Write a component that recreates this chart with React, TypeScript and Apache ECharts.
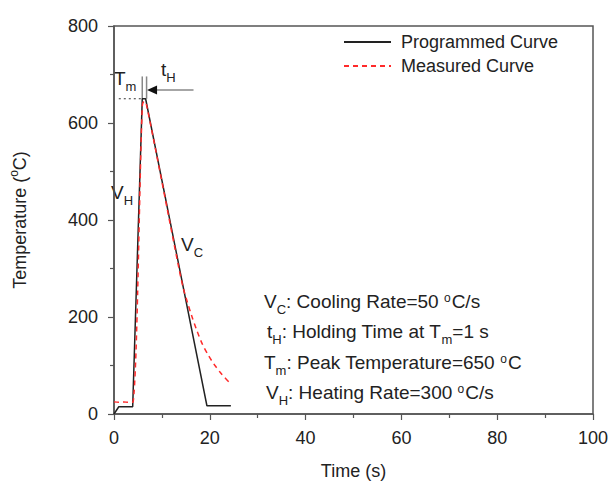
import React, { useEffect, useRef } from "react";
import * as echarts from "echarts";

const programmedTime = [0, 1, 3.9, 5.9, 6.6, 19.4, 24.4];
const programmedTemp = [0, 15, 15, 650, 650, 17, 17];
const measuredTime = [0, 1, 2, 3, 4.0, 5.9, 6.3, 6.8, 13.6, 14.5, 15.4, 16.3, 17.3, 18.4, 19.7, 21, 22.5, 24];
const measuredTemp = [25, 24, 25, 24, 25, 635, 645, 637, 298, 258, 228, 200, 172, 145, 121, 101, 82, 66];
const xTicks = [0, 20, 40, 60, 80, 100];
const yTicks = [0, 200, 400, 600, 800];
const seriesNames = ["Programmed Curve", "Measured Curve"];

const FONT = "'Liberation Sans', Arial, sans-serif";

export default function App() {
  const ref = useRef<HTMLDivElement>(null);
  useEffect(() => {
    if (!ref.current) return;
    document.body.style.margin = "0";
    const chart = echarts.init(ref.current, null, { renderer: "svg" });
    const axisCommon = {
      axisLine: { show: true, lineStyle: { color: "#555", width: 1.5 } },
      axisTick: { show: true, inside: false, length: 6, lineStyle: { color: "#555", width: 1.2 } },
      minorTick: { show: true, splitNumber: 2, length: 4, lineStyle: { color: "#555", width: 1.2 } },
      splitLine: { show: false },
      axisLabel: { fontSize: 18, color: "#222", fontFamily: FONT },
      nameTextStyle: { fontSize: 18, color: "#222", fontFamily: FONT },
    };
    chart.setOption({
      animation: false,
      backgroundColor: "#fff",
      grid: { left: 110, right: 21, top: 26, bottom: 72, show: true, borderColor: "#555", borderWidth: 1.5, backgroundColor: "transparent" },
      legend: {
        orient: "vertical",
        left: 343,
        top: 33,
        padding: 0,
        itemWidth: 47,
        itemHeight: 14,
        itemGap: 6,
        data: seriesNames,
        itemStyle: { opacity: 0 },
        textStyle: { fontSize: 18, color: "#222", fontFamily: FONT, padding: [0, 0, 0, 5] },
      },
      xAxis: {
        type: "value",
        min: xTicks[0],
        max: xTicks[xTicks.length - 1],
        interval: 20,
        name: "Time (s)",
        nameLocation: "middle",
        nameGap: 48,
        ...axisCommon,
        axisLabel: { ...axisCommon.axisLabel, margin: 15 },
      },
      yAxis: {
        type: "value",
        min: yTicks[0],
        max: yTicks[yTicks.length - 1],
        interval: 200,
        name: "Temperature ({sup|o}C)",
        nameLocation: "middle",
        nameGap: 82,
        ...axisCommon,
        axisLabel: { ...axisCommon.axisLabel, margin: 16 },
        nameTextStyle: {
          ...axisCommon.nameTextStyle,
          rich: {
            sup: { fontSize: 12, color: "#222", fontFamily: FONT, verticalAlign: "top", lineHeight: 24 },
          },
        },
      },
      series: [
        {
          name: seriesNames[0],
          type: "line",
          symbol: "none",
          data: programmedTime.map((t, i) => [t, programmedTemp[i]]),
          lineStyle: { color: "#222", width: 1.5 },
          itemStyle: { color: "#222" },
          z: 2,
        },
        {
          name: seriesNames[1],
          type: "line",
          symbol: "none",
          smooth: 0.3,
          data: measuredTime.map((t, i) => [t, measuredTemp[i]]),
          lineStyle: { color: "#ff2a2a", width: 1.5, type: [5, 4] },
          itemStyle: { color: "#ff2a2a" },
          z: 3,
        },
      ],
    });

    const px = (x: number, y: number) => chart.convertToPixel({ gridIndex: 0 }, [x, y]) as number[];
    const dotA = px(1, 650);
    const dotB = px(5.7, 650);
    const v1a = px(5.9, 650);
    const v1b = px(5.9, 696);
    const v2a = px(6.8, 650);
    const v2b = px(6.8, 696);
    const arA = px(16.6, 668);
    const arB = px(8.6, 668);
    const tip = px(6.9, 668);

    const mainStyle = { fontSize: 19, fontFamily: FONT, fill: "#222" };
    const rich = {
      t: { fontSize: 19, fontFamily: FONT, color: "#222", lineHeight: 30 },
      sub: { fontSize: 13, fontFamily: FONT, color: "#222", lineHeight: 14, verticalAlign: "bottom" },
      sup: { fontSize: 12, fontFamily: FONT, color: "#222", lineHeight: 12, verticalAlign: "top", padding: [6, 1, 0, 0] },
    };
    const label = (x: number, y: number, text: string) => ({
      type: "text",
      x,
      y,
      style: { ...mainStyle, text, rich, verticalAlign: "middle", align: "left" },
    });

    chart.setOption({
      graphic: [
        { type: "line", shape: { x1: dotA[0], y1: dotA[1], x2: dotB[0], y2: dotB[1] }, style: { stroke: "#333", lineWidth: 1, lineDash: [2, 3] } },
        { type: "line", shape: { x1: v1a[0], y1: v1a[1], x2: v1b[0], y2: v1b[1] }, style: { stroke: "#888", lineWidth: 1.5 } },
        { type: "line", shape: { x1: v2a[0], y1: v2a[1], x2: v2b[0], y2: v2b[1] }, style: { stroke: "#888", lineWidth: 1.5 } },
        { type: "line", shape: { x1: arA[0], y1: arA[1], x2: arB[0], y2: arB[1] }, style: { stroke: "#888", lineWidth: 1.5 } },
        { type: "polygon", shape: { points: [[tip[0], tip[1]], [tip[0] + 10, tip[1] - 4.5], [tip[0] + 10, tip[1] + 4.5]] }, style: { fill: "#111" } },
        label(114, 78, "{t|T}{sub|m}"),
        label(161, 69, "{t|t}{sub|H}"),
        label(111, 192, "{t|V}{sub|H}"),
        label(181, 244, "{t|V}{sub|C}"),
        label(264, 301, "{t|V}{sub|C}{t|: Cooling Rate=50 }{sup|o}{t|C/s}"),
        label(267, 331, "{t|t}{sub|H}{t|: Holding Time at T}{sub|m}{t|=1 s}"),
        label(264, 362, "{t|T}{sub|m}{t|: Peak Temperature=650 }{sup|o}{t|C}"),
        label(266, 392, "{t|V}{sub|H}{t|: Heating Rate=300 }{sup|o}{t|C/s}"),
      ],
    });
    return () => chart.dispose();
  }, []);
  return <div ref={ref} style={{ width: 614, height: 486 }} />;
}
